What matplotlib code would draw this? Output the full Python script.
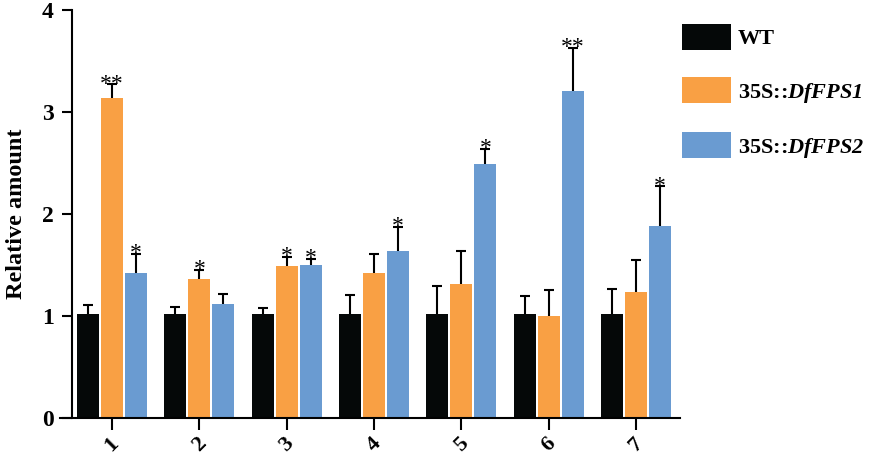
import matplotlib
matplotlib.use("Agg")
import matplotlib.pyplot as plt
import numpy as np

plt.rcParams['font.family'] = ['Liberation Serif', 'DejaVu Serif']
plt.rcParams['mathtext.fontset'] = 'custom'
plt.rcParams['mathtext.it'] = 'Liberation Serif:italic:bold'
plt.rcParams['mathtext.rm'] = 'Liberation Serif:italic:bold'

# data
groups = ['1', '2', '3', '4', '5', '6', '7']
wt = [1.02, 1.02, 1.02, 1.02, 1.02, 1.02, 1.02]
wt_err = [0.09, 0.07, 0.055, 0.19, 0.27, 0.18, 0.24]
fps1 = [3.14, 1.36, 1.49, 1.42, 1.31, 1.00, 1.24]
fps1_err = [0.13, 0.09, 0.09, 0.19, 0.33, 0.255, 0.31]
fps2 = [1.42, 1.12, 1.50, 1.64, 2.49, 3.21, 1.88]
fps2_err = [0.19, 0.10, 0.06, 0.235, 0.15, 0.42, 0.39]
fps1_sig = ['**', '*', '*', '', '', '', '']
fps2_sig = ['*', '', '*', '*', '*', '**', '*']

names = ['WT', r'35S::$\mathrm{DfFPS1}$', r'35S::$\mathrm{DfFPS2}$']
colors = ['#050808', '#F9A044', '#6A9BD1']

fig = plt.figure(figsize=(8.77, 4.59), dpi=100)
ax = fig.add_axes([60/877, 41/459, 620/877, 408/459])

# spines first, moving the spine resets the tick labels
ax.spines['top'].set_visible(False)
ax.spines['right'].set_visible(False)
ax.spines['left'].set_position(('data', -0.458))
ax.spines['left'].set_linewidth(1.5)
ax.spines['bottom'].set_linewidth(1.5)

x = np.arange(len(groups))
w = 0.25
step = 0.275
series = [(wt, wt_err), (fps1, fps1_err), (fps2, fps2_err)]
for i, (vals, errs) in enumerate(series):
    pos = x + (i - 1) * step
    ax.bar(pos, vals, w, color=colors[i], label=names[i], zorder=2)
    eb = ax.errorbar(pos, vals, yerr=[np.zeros(len(vals)), errs], fmt='none',
                     ecolor='black', elinewidth=1.5, capsize=3.8, capthick=1.5,
                     zorder=3)
    eb[1][0].set_visible(False)

for i, sig in enumerate([fps1_sig, fps2_sig]):
    vals, errs = series[i + 1]
    for k, s in enumerate(sig):
        if s:
            ax.text(x[k] + i * step, vals[k] + errs[k] - 0.1, s,
                    ha='center', va='bottom', fontsize=17, zorder=4)

ax.set_xlim(-0.595, 6.504)
ax.set_ylim(0, 4)
ax.set_yticks([0, 1, 2, 3, 4], labels=['0', '1', '2', '3', '4'],
              fontweight='bold', fontsize=17)
ax.set_xticks(x, labels=groups, rotation=45, fontweight='bold', fontsize=16)
ax.tick_params(axis='y', length=7, width=1.5, pad=6)
ax.tick_params(axis='x', length=8.5, width=1.5, pad=3)

ax.set_ylabel('Relative amount', fontweight='bold', fontsize=17.5, labelpad=10.5)

leg = ax.legend(loc='upper left', bbox_to_anchor=(682/877, 1 - 24/459),
                bbox_transform=fig.transFigure, frameon=False,
                prop={'weight': 'bold', 'size': 16},
                handlelength=2.2, handleheight=1.4, labelspacing=1.25,
                handletextpad=0.3, borderaxespad=0, borderpad=0)

fig.savefig('out.png', dpi=100)
